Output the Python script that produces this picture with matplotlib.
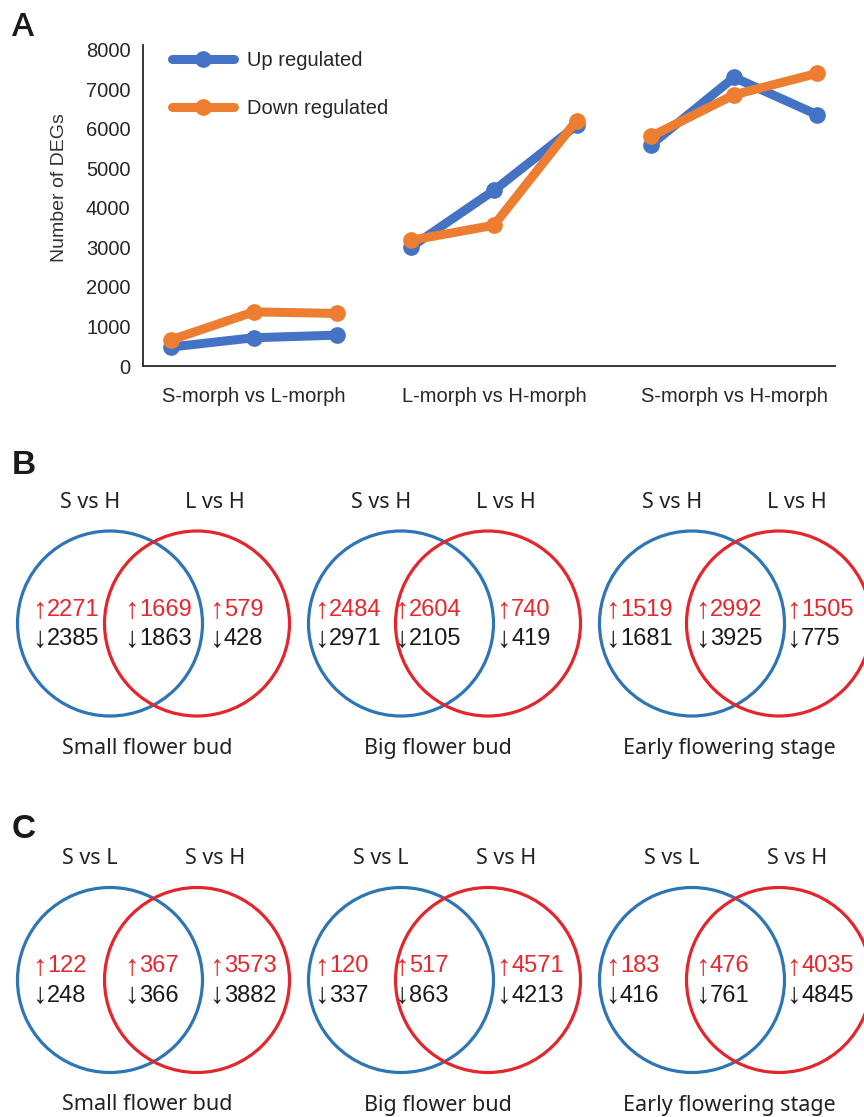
import matplotlib
matplotlib.use("Agg")
import matplotlib.pyplot as plt
from matplotlib.patches import Circle
import numpy as np

# panel A: number of DEGs for three stages in each comparison
groups = ["S-morph vs L-morph", "L-morph vs H-morph", "S-morph vs H-morph"]
up_regulated = [[480, 715, 780], [3010, 4440, 6090], [5600, 7300, 6360]]
down_regulated = [[660, 1370, 1330], [3180, 3560, 6210], [5810, 6860, 7400]]
y_ticks = [0, 1000, 2000, 3000, 4000, 5000, 6000, 7000, 8000]

# panels B and C: venn counts (left only, overlap, right only)
stages = ["Small flower bud", "Big flower bud", "Early flowering stage"]
b_sets = ["S vs H", "L vs H"]
b_up = [[2271, 1669, 579], [2484, 2604, 740], [1519, 2992, 1505]]
b_down = [[2385, 1863, 428], [2971, 2105, 419], [1681, 3925, 775]]
c_sets = ["S vs L", "S vs H"]
c_up = [[122, 367, 3573], [120, 517, 4571], [183, 476, 4035]]
c_down = [[248, 366, 3882], [337, 863, 4213], [416, 761, 4845]]

W, H = 864, 1117
fig = plt.figure(figsize=(W / 100, H / 100), dpi=100)

NUM_FONT = ["Liberation Sans", "DejaVu Sans"]
LAB_FONT = ["Noto Sans", "DejaVu Sans"]

# overlay axes in pixel units for the venn panels and panel letters
ov = fig.add_axes([0, 0, 1, 1])
ov.set_xlim(0, W)
ov.set_ylim(H, 0)
ov.axis("off")

# ---- panel A ----
ax = fig.add_axes([143 / W, 1 - 366 / H, (835 - 143) / W, (366 - 45) / H])
ax.patch.set_alpha(0)
blue, orange = "#4472C4", "#ED7D31"
for series, color, name in [(up_regulated, blue, "Up regulated"),
                            (down_regulated, orange, "Down regulated")]:
    for g, vals in enumerate(series):
        xs = g * 2.9 + np.arange(len(vals))
        ax.plot(xs, vals, color=color, lw=6.5, marker="o", ms=11,
                solid_joinstyle="round", solid_capstyle="round",
                label=name if g == 0 else None)

ax.set_xlim(-0.338, 8.02)
ax.set_ylim(0, 8120)
ax.set_yticks(y_ticks)
ax.set_xticks([g * 2.9 + 1 for g in range(len(groups))])
ax.set_xticklabels(groups)
ax.tick_params(axis="both", length=0, labelsize=14.5, labelcolor="#262626")
ax.tick_params(axis="y", pad=9)
ax.tick_params(axis="x", pad=15)
for lab in ax.get_xticklabels() + ax.get_yticklabels():
    lab.set_family(NUM_FONT)
for s in ["top", "right"]:
    ax.spines[s].set_visible(False)
for s in ["left", "bottom"]:
    ax.spines[s].set_color("#262626")
    ax.spines[s].set_linewidth(1.3)
ax.set_ylabel("Number of DEGs", fontsize=14, family=NUM_FONT, color="#333333")
ax.yaxis.set_label_coords(-0.108, 0.555)
leg = ax.legend(loc="upper left", bbox_to_anchor=(172 / W, 1 - 51 / H),
                bbox_transform=fig.transFigure, frameon=False, borderpad=0,
                borderaxespad=0, handlelength=3.1, handletextpad=0.6,
                labelspacing=1.45, prop={"family": NUM_FONT, "size": 14.5})
for t in leg.get_texts():
    t.set_color("#262626")

# ---- panels B and C ----
col_x = [110, 401, 692]
shift, radius = 87, 92.5
left_dx = [-74, -83, -83]
mid_dx = [18, -3, 7]
right_dx = [103, 99, 98]
venn_blue, venn_red = "#2E75B6", "#E3262B"
num_red, num_black = "#E8262B", "#1A1A1A"


def count_label(x, base, arrow, value, color):
    ov.text(x + 10.5, base + 2, arrow, ha="right", va="baseline", fontsize=21,
            family=NUM_FONT, color=color)
    ov.text(x + 11, base, str(value), ha="left", va="baseline", fontsize=17,
            family=NUM_FONT, color=color)


rows = [(623.5, b_sets, b_up, b_down), (980, c_sets, c_up, c_down)]
for cy, sets, ups, downs in rows:
    for k, cx in enumerate(col_x):
        ov.add_patch(Circle((cx, cy), radius, fill=False, ec=venn_blue, lw=2.3))
        ov.add_patch(Circle((cx + shift, cy), radius, fill=False, ec=venn_red, lw=2.3))
        ov.text(cx - 20, cy - 121, sets[0], ha="center", va="center",
                fontsize=15.5, family=LAB_FONT, color="#222222")
        ov.text(cx + shift + 18, cy - 121, sets[1], ha="center", va="center",
                fontsize=15.5, family=LAB_FONT, color="#222222")
        ov.text(cx + 37, cy + 125, stages[k], ha="center", va="center",
                fontsize=15.5, family=LAB_FONT, color="#222222")
        for j, dx in enumerate([left_dx[k], mid_dx[k], right_dx[k]]):
            count_label(cx + dx, cy - 7.5, "\u2191", ups[k][j], num_red)
            count_label(cx + dx, cy + 21.5, "\u2193", downs[k][j], num_black)

# panel letters
ov.text(12, 27, "A", ha="left", va="center", fontsize=24, family=["Open Sans"],
        weight="semibold", color="#1A1A1A")
ov.text(12, 465, "B", ha="left", va="center", fontsize=24, family=NUM_FONT,
        weight="bold", color="#1A1A1A")
ov.text(12, 830, "C", ha="left", va="center", fontsize=24, family=NUM_FONT,
        weight="bold", color="#1A1A1A")

fig.savefig("out.png", dpi=100)
